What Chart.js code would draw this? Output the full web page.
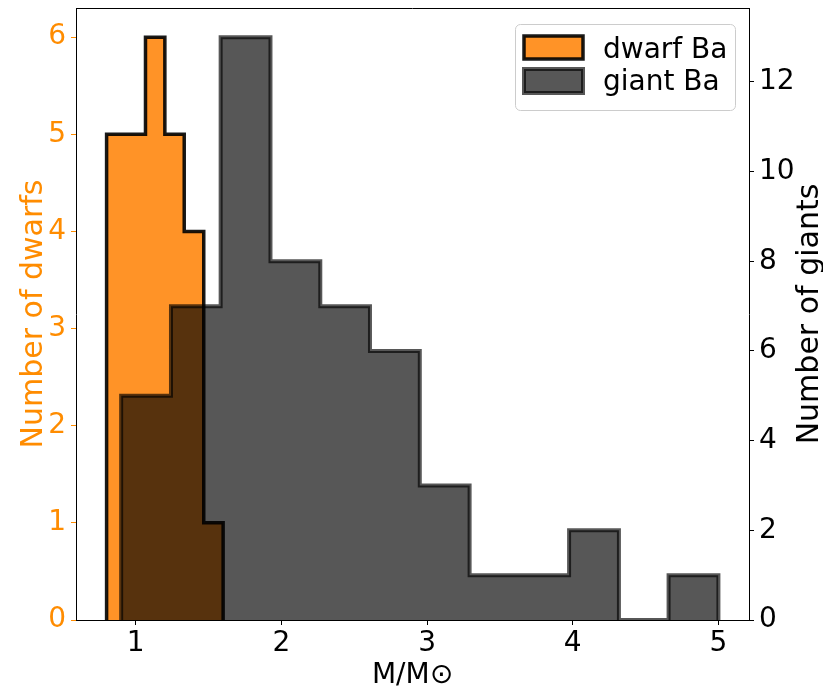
<!DOCTYPE html>
<html>
<head>
<meta charset="utf-8">
<script src="https://cdn.jsdelivr.net/npm/chart.js@4"></script>
<style>
  body { margin: 0; background: #fff; }
  #wrap { width: 823px; height: 687px; }
</style>
</head>
<body>
<div id="wrap"><canvas id="histo" width="823" height="687"></canvas></div>
<script>
// bin edges (M/M⊙) and counts
const dwarfEdges = [0.8, 0.933, 1.067, 1.2, 1.333, 1.467, 1.6];
const dwarfCounts = [5, 5, 6, 5, 4, 1];
const giantEdges = [0.9, 1.242, 1.583, 1.925, 2.267, 2.608, 2.95, 3.292, 3.633, 3.975, 4.317, 4.658, 5.0];
const giantCounts = [5, 7, 13, 8, 7, 6, 3, 1, 1, 2, 0, 1];

// tick labels
const massTicks = [1, 2, 3, 4, 5];
const dwarfTicks = [0, 1, 2, 3, 4, 5, 6];
const giantTicks = [0, 2, 4, 6, 8, 10, 12];

const seriesNames = ['dwarf Ba', 'giant Ba'];
const axisTitles = { x: 'M/M\u2299', dwarf: 'Number of dwarfs', giant: 'Number of giants' };

const FONT = 'DejaVu Sans';
const FS = 28;
const ORANGE = '#ff8c00';
const DWARF_FILL = '#ff9327';
const DWARF_EDGE = 'rgba(0,0,0,0.9)';
const GIANT_FILL = 'rgba(0,0,0,0.66)';
const GIANT_EDGE = 'rgba(0,0,0,0.66)';

// edges + counts -> outline points for a stepped line
function stepPoints(edges, counts) {
    const pts = [{ x: edges[0], y: 0 }];
    counts.forEach((c, i) => pts.push({ x: edges[i], y: c }));
    pts.push({ x: edges[edges.length - 1], y: 0 });
    return pts;
}

function fixTicks(values) {
    return scale => { scale.ticks = values.map(v => ({ value: v })); };
}

// fixed box sizes, no extra label padding
function fixSize(w, h) {
    return s => {
        if (w) s.width = w;
        if (h) s.height = h;
        s.paddingTop = s.paddingBottom = s.paddingLeft = s.paddingRight = 0;
    };
}

// top spine, axis titles and the legend box
const decorations = {
    id: 'decorations',
    afterDraw(chart) {
        const { ctx, chartArea: ca } = chart;
        const midY = (ca.top + ca.bottom) / 2;
        ctx.save();

        ctx.strokeStyle = '#000';
        ctx.lineWidth = 1;
        ctx.beginPath();
        ctx.moveTo(ca.left, ca.top + 0.5);
        ctx.lineTo(ca.right, ca.top + 0.5);
        ctx.stroke();

        ctx.font = FS + 'px "' + FONT + '"';
        ctx.textBaseline = 'alphabetic';
        ctx.textAlign = 'center';
        ctx.fillStyle = '#000';
        ctx.fillText(axisTitles.x, (ca.left + ca.right) / 2, 683);

        ctx.font = '30px "' + FONT + '"';
        ctx.save();
        ctx.translate(42, midY);
        ctx.rotate(-Math.PI / 2);
        ctx.fillStyle = ORANGE;
        ctx.fillText(axisTitles.dwarf, 0, 0);
        ctx.restore();

        ctx.save();
        ctx.translate(818, midY);
        ctx.rotate(-Math.PI / 2);
        ctx.fillStyle = '#000';
        ctx.fillText(axisTitles.giant, 0, 0);
        ctx.restore();

        // legend
        ctx.beginPath();
        ctx.roundRect(515.5, 24.5, 220, 86, 5);
        ctx.fillStyle = 'rgba(255,255,255,0.8)';
        ctx.fill();
        ctx.strokeStyle = '#cccccc';
        ctx.lineWidth = 1;
        ctx.stroke();

        ctx.fillStyle = DWARF_FILL;
        ctx.fillRect(524, 36, 59, 23);
        ctx.strokeStyle = DWARF_EDGE;
        ctx.lineWidth = 3.5;
        ctx.strokeRect(524, 36, 59, 23);

        ctx.fillStyle = GIANT_FILL;
        ctx.fillRect(524, 69, 59, 24);
        ctx.strokeStyle = GIANT_EDGE;
        ctx.lineWidth = 4;
        ctx.strokeRect(524, 69, 59, 24);

        ctx.font = FS + 'px "' + FONT + '"';
        ctx.textAlign = 'left';
        ctx.fillStyle = '#000';
        ctx.fillText(seriesNames[0], 603, 58);
        ctx.fillText(seriesNames[1], 603, 90);
        ctx.restore();
    }
};

const tickFont = { family: FONT, size: FS };

new Chart(document.getElementById('histo'), {
    type: 'line',
    data: {
        datasets: [
            {
                label: seriesNames[1],
                data: stepPoints(giantEdges, giantCounts),
                yAxisID: 'y1',
                stepped: true,
                fill: 'origin',
                backgroundColor: GIANT_FILL,
                borderColor: GIANT_EDGE,
                borderWidth: 4,
                pointRadius: 0,
                order: 0
            },
            {
                label: seriesNames[0],
                data: stepPoints(dwarfEdges, dwarfCounts),
                yAxisID: 'y',
                stepped: true,
                fill: 'origin',
                backgroundColor: DWARF_FILL,
                borderColor: DWARF_EDGE,
                borderWidth: 3.5,
                pointRadius: 0,
                order: 1
            }
        ]
    },
    options: {
        responsive: false,
        animation: false,
        layout: { padding: { top: 8 } },
        plugins: { legend: { display: false }, tooltip: { enabled: false } },
        scales: {
            x: {
                type: 'linear',
                min: 0.59,
                max: 5.21,
                afterBuildTicks: fixTicks(massTicks),
                afterFit: fixSize(0, 67),
                grid: { drawOnChartArea: false, tickLength: 5, tickColor: '#000' },
                border: { color: '#000' },
                ticks: { font: tickFont, color: '#000', padding: 2, maxRotation: 0 }
            },
            y: {
                position: 'left',
                min: 0,
                max: 6.3,
                afterBuildTicks: fixTicks(dwarfTicks),
                afterFit: fixSize(76, 0),
                grid: { drawOnChartArea: false, tickLength: 5, tickColor: ORANGE },
                border: { color: '#000' },
                ticks: { font: tickFont, color: ORANGE, padding: 5 }
            },
            y1: {
                position: 'right',
                min: 0,
                max: 13.65,
                afterBuildTicks: fixTicks(giantTicks),
                afterFit: fixSize(74, 0),
                grid: { drawOnChartArea: false, tickLength: 5, tickColor: '#000' },
                border: { color: '#000' },
                ticks: { font: tickFont, color: '#000', padding: 5 }
            }
        }
    },
    plugins: [decorations]
});
</script>
</body>
</html>
